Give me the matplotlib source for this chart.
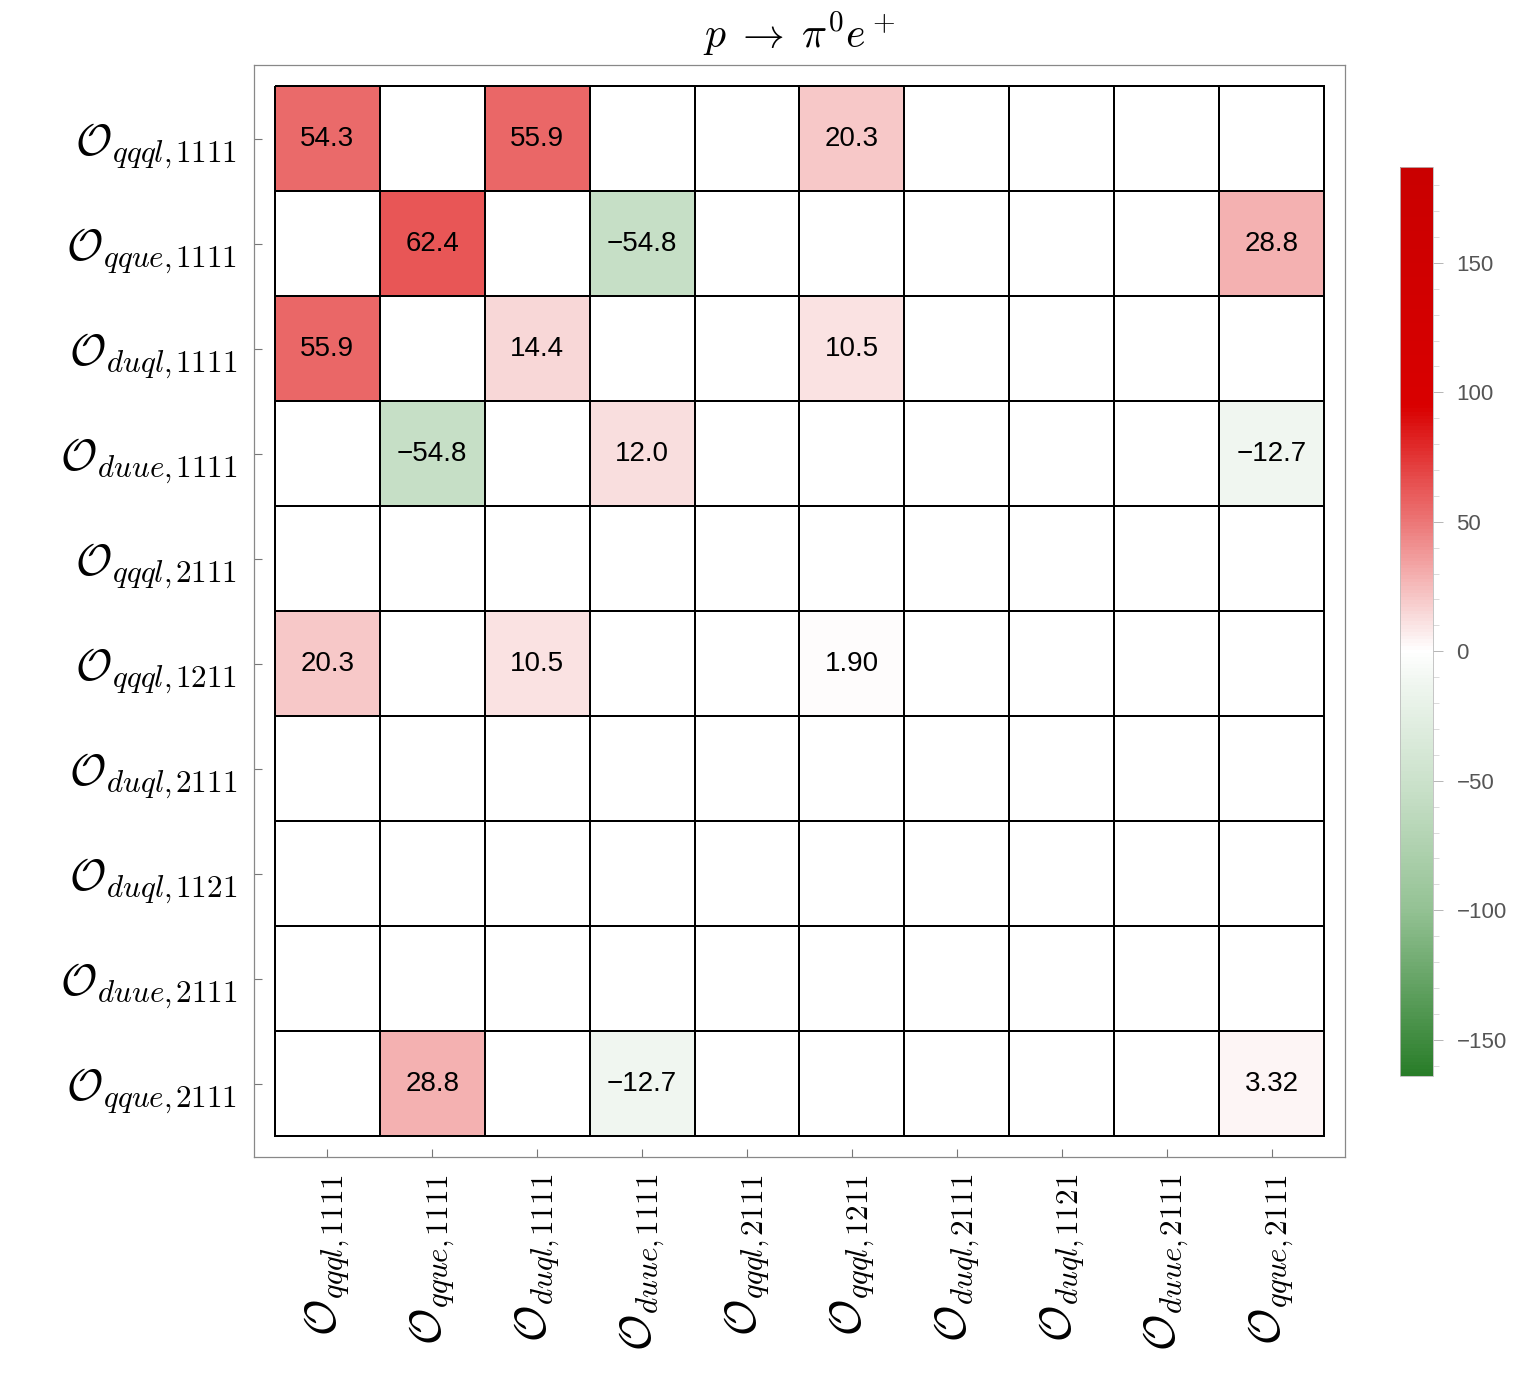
import numpy as np
import matplotlib
matplotlib.use("Agg")
import matplotlib.pyplot as plt
from matplotlib.colors import LinearSegmentedColormap, Normalize
from matplotlib.ticker import MultipleLocator

plt.rcParams['mathtext.fontset'] = 'cm'
plt.rcParams['font.family'] = ['Liberation Sans', 'DejaVu Sans']

operators = ["qqql", "qque", "duql", "duue", "qqql", "qqql", "duql", "duql", "duue", "qque"]
indices = ["1111", "1111", "1111", "1111", "2111", "1211", "2111", "1121", "2111", "2111"]
labels = [r"$\mathcal{O}_{" + op + r"{,}\hspace{0.12}" + ix + "}$"
          for op, ix in zip(operators, indices)]

# row, column, value (rows top to bottom)
cell_rows = [0, 0, 0, 1, 1, 1, 2, 2, 2, 3, 3, 3, 5, 5, 5, 9, 9, 9]
cell_cols = [0, 2, 5, 1, 3, 9, 0, 2, 5, 1, 3, 9, 0, 2, 5, 1, 3, 9]
cell_vals = [54.3, 55.9, 20.3, 62.4, -54.8, 28.8, 55.9, 14.4, 10.5,
             -54.8, 12.0, -12.7, 20.3, 10.5, 1.90, 28.8, -12.7, 3.32]

vmin, vmax = -164, 187

n = len(operators)
M = np.zeros((n, n))
for r, c, v in zip(cell_rows, cell_cols, cell_vals):
    M[r, c] = v

# colour nodes (value, rgb)
nodes = [(-164, (0.16, 0.49, 0.16)), (-100, (0.58, 0.76, 0.58)),
         (-54.8, (0.78, 0.875, 0.78)), (-12.7, (0.94, 0.965, 0.94)),
         (0, (1, 1, 1)), (10.5, (0.98, 0.89, 0.89)), (28.8, (0.957, 0.694, 0.694)),
         (54.3, (0.92, 0.42, 0.42)), (62.4, (0.91, 0.345, 0.345)),
         (95, (0.85, 0.0, 0.0)), (187, (0.79, 0.0, 0.0))]
cmap = LinearSegmentedColormap.from_list(
    "rg", [((v - vmin) / (vmax - vmin), col) for v, col in nodes])
norm = Normalize(vmin=vmin, vmax=vmax)

fig = plt.figure(figsize=(15.27, 13.86), dpi=100)
ax = fig.add_axes([0.1663, 0.1652, 0.7145, 0.7879])

x = np.arange(n + 1) - 0.5
ax.pcolormesh(x, x, M, cmap=cmap, norm=norm, edgecolors='black', linewidth=1.3)
pad = 0.2
ax.set_xlim(-0.5 - pad, n - 0.5 + pad)
ax.set_ylim(n - 0.5 + pad, -0.5 - pad)

for r, c, v in zip(cell_rows, cell_cols, cell_vals):
    s = "{:#.3g}".format(v).replace("-", "\u2212")
    ax.text(c, r, s, ha='center', va='center', fontsize=20, color='black')

ax.set_xticks(range(n))
ax.set_yticks(range(n))
ax.set_xticklabels(labels, rotation=90, fontsize=32)
ax.set_yticklabels(labels, fontsize=32)
ax.tick_params(direction='in', length=6, width=0.8, color='#777777', pad=12)
for sp in ax.spines.values():
    sp.set_color('#888888')
    sp.set_linewidth(0.9)

ax.set_title(r"$p \;\to\; \pi^0 e^+$", fontsize=30, pad=12)

cax = fig.add_axes([0.9168, 0.2237, 0.0216, 0.6558])
sm = plt.cm.ScalarMappable(cmap=cmap, norm=norm)
cb = fig.colorbar(sm, cax=cax)
cb.set_ticks([-150, -100, -50, 0, 50, 100, 150])
cb.set_ticklabels(["\u2212150", "\u2212100", "\u221250", "0", "50", "100", "150"])
cax.yaxis.set_minor_locator(MultipleLocator(10))
cax.tick_params(which='major', length=7, width=0.6, color='#aaaaaa',
                labelsize=16, labelcolor='#555555', pad=10)
cax.tick_params(which='minor', length=4, width=0.5, color='#cccccc')
cb.outline.set_edgecolor('#bbbbbb')
cb.outline.set_linewidth(0.6)

fig.savefig("out.png", dpi=100)
